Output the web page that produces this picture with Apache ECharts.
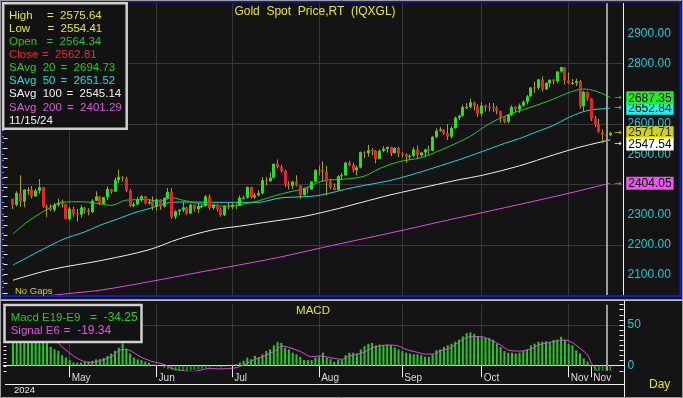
<!DOCTYPE html>
<html>
<head>
<meta charset="utf-8">
<title>Gold Spot Price</title>
<script src="https://cdn.jsdelivr.net/npm/echarts@6.0.0/dist/echarts.min.js"></script>
<style>
  html, body { margin: 0; padding: 0; background: #141414; }
  #main { width: 683px; height: 398px; }
</style>
</head>
<body>
<div id="main"></div>
<script>
// trading days shown (2024)
const dates = [
  '04/10','04/11','04/12','04/15','04/16','04/17','04/18','04/19','04/22','04/23','04/24','04/25','04/26','04/29','04/30',
  '05/01','05/02','05/03','05/06','05/07','05/08','05/09','05/10','05/13','05/14','05/15','05/16','05/17','05/20','05/21',
  '05/22','05/23','05/24','05/27','05/28','05/29','05/30','05/31',
  '06/03','06/04','06/05','06/06','06/07','06/10','06/11','06/12','06/13','06/14','06/17','06/18','06/19','06/20','06/21',
  '06/24','06/25','06/26','06/27','06/28',
  '07/01','07/02','07/03','07/04','07/05','07/08','07/09','07/10','07/11','07/12','07/15','07/16','07/17','07/18','07/19',
  '07/22','07/23','07/24','07/25','07/26','07/29','07/30','07/31',
  '08/01','08/02','08/05','08/06','08/07','08/08','08/09','08/12','08/13','08/14','08/15','08/16','08/19','08/20','08/21',
  '08/22','08/23','08/26','08/27','08/28','08/29','08/30',
  '09/02','09/03','09/04','09/05','09/06','09/09','09/10','09/11','09/12','09/13','09/16','09/17','09/18','09/19','09/20',
  '09/23','09/24','09/25','09/26','09/27','09/30',
  '10/01','10/02','10/03','10/04','10/07','10/08','10/09','10/10','10/11','10/14','10/15','10/16','10/17','10/18','10/21',
  '10/22','10/23','10/24','10/25','10/28','10/29','10/30','10/31',
  '11/01','11/04','11/05','11/06','11/07','11/08','11/11','11/12','11/13','11/14','11/15','11/18'
];

// [open, high, low, close]
const ohlc = [
  [2353,2354,2319,2333],[2333,2378,2327,2372],[2373,2431,2326,2344],[2344,2384,2325,2383],[2383,2392,2366,2383],
  [2383,2395,2354,2361],[2361,2386,2359,2379],[2379,2418,2369,2391],[2391,2392,2323,2327],[2327,2334,2292,2322],
  [2322,2335,2311,2316],[2316,2339,2309,2332],[2332,2353,2326,2337],[2338,2350,2324,2335],[2335,2336,2285,2286],
  [2286,2326,2281,2320],[2320,2326,2293,2303],[2303,2319,2277,2301],[2301,2331,2291,2324],[2324,2326,2304,2314],
  [2314,2321,2298,2309],[2309,2351,2306,2346],[2346,2378,2345,2360],[2360,2361,2332,2336],[2336,2359,2335,2358],
  [2358,2393,2349,2385],[2385,2386,2369,2376],[2376,2422,2374,2415],[2415,2450,2405,2425],[2425,2427,2410,2421],
  [2421,2426,2374,2379],[2379,2385,2326,2329],[2329,2341,2325,2334],[2334,2358,2332,2350],[2350,2364,2341,2361],
  [2361,2362,2334,2338],[2338,2352,2333,2343],[2343,2360,2315,2327],
  [2327,2354,2314,2350],[2350,2352,2316,2327],[2327,2357,2324,2355],[2355,2388,2351,2376],[2376,2388,2287,2293],
  [2293,2315,2286,2311],[2311,2318,2298,2316],[2316,2342,2309,2324],[2324,2326,2300,2304],[2304,2336,2302,2333],
  [2333,2334,2310,2319],[2319,2336,2306,2329],[2329,2333,2322,2329],[2329,2365,2327,2360],[2360,2368,2316,2322],
  [2322,2335,2316,2334],[2334,2336,2310,2319],[2319,2324,2293,2298],[2298,2331,2295,2327],[2327,2339,2318,2326],
  [2326,2338,2319,2332],[2332,2336,2319,2330],[2330,2364,2329,2356],[2356,2363,2351,2356],[2356,2393,2354,2392],
  [2392,2393,2353,2358],[2358,2372,2352,2364],[2364,2381,2360,2371],[2371,2424,2368,2414],[2414,2425,2397,2411],
  [2411,2440,2409,2422],[2422,2469,2421,2469],[2469,2483,2453,2458],[2458,2465,2440,2445],[2445,2449,2392,2400],
  [2400,2410,2384,2396],[2396,2412,2385,2409],[2409,2431,2394,2397],[2397,2398,2353,2364],[2364,2390,2364,2387],
  [2387,2393,2371,2384],[2384,2411,2383,2410],[2410,2451,2407,2447],
  [2447,2462,2431,2446],[2446,2477,2410,2443],[2443,2461,2364,2409],[2409,2419,2385,2390],[2390,2403,2381,2382],
  [2382,2431,2380,2427],[2427,2439,2415,2431],[2431,2475,2427,2472],[2472,2479,2460,2465],[2465,2473,2440,2447],
  [2447,2463,2431,2456],[2456,2509,2454,2507],[2507,2510,2488,2504],[2504,2531,2492,2513],[2513,2520,2497,2512],
  [2512,2514,2470,2485],[2485,2516,2484,2512],[2512,2527,2507,2518],[2518,2526,2506,2524],[2524,2525,2494,2504],
  [2504,2524,2503,2521],[2521,2525,2491,2503],
  [2503,2507,2490,2500],[2500,2503,2472,2493],[2493,2500,2482,2495],[2495,2524,2490,2516],[2516,2529,2485,2497],
  [2497,2507,2492,2506],[2506,2518,2493,2516],[2516,2528,2500,2512],[2512,2560,2510,2558],[2558,2586,2554,2578],
  [2578,2590,2575,2582],[2582,2584,2564,2570],[2570,2600,2547,2559],[2559,2592,2552,2587],[2587,2625,2585,2621],
  [2621,2632,2613,2628],[2628,2664,2624,2657],[2657,2670,2649,2657],[2657,2685,2652,2672],[2672,2674,2645,2658],
  [2658,2666,2624,2634],
  [2634,2673,2625,2662],[2662,2664,2642,2657],[2657,2670,2642,2656],[2656,2670,2640,2653],[2653,2660,2632,2643],
  [2643,2644,2605,2622],[2622,2624,2603,2608],[2608,2633,2604,2631],[2631,2662,2626,2657],[2657,2660,2640,2649],
  [2649,2668,2637,2662],[2662,2678,2657,2674],[2674,2696,2665,2692],[2692,2722,2690,2721],[2721,2740,2704,2720],
  [2720,2749,2714,2748],[2748,2758,2708,2715],[2715,2739,2714,2736],[2736,2748,2722,2747],[2747,2749,2731,2743],
  [2743,2774,2736,2774],[2774,2790,2770,2788],[2788,2789,2731,2744],
  [2744,2771,2732,2736],[2736,2749,2730,2736],[2736,2750,2726,2742],[2742,2746,2652,2659],[2659,2710,2643,2706],
  [2706,2709,2677,2685],[2685,2686,2610,2618],[2618,2627,2590,2598],[2598,2618,2572,2573],[2573,2582,2537,2565],
  [2564.34,2575.64,2554.41,2562.81],[2563,2575,2560,2571.71]
];

// moving averages: [day index, value]
const sma20 = [[0,2236],[4,2278],[10,2325],[13,2341],[18,2343],[22,2338],[26,2331],[30,2348],[35,2350],[39,2345],
  [42,2356],[45,2348],[50,2335],[57,2328],[61,2335],[65,2346],[69,2362],[73,2375],[77,2386],[82,2412],[88,2418],
  [93,2428],[97,2453],[102,2475],[108,2489],[113,2513],[118,2541],[121,2560],[126,2601],[131,2631],[137,2656],
  [142,2678],[147,2704],[151,2716],[154,2710],[157,2694.73],[158,2687.35]];
const sma50 = [[0,2133],[13,2217],[19,2243],[23,2265],[28,2287],[32,2306],[36,2320],[41,2339],[45,2342],[55,2341],
  [65,2341],[68,2348],[71,2356],[76,2359],[81,2364],[90,2390],[100,2414],[108,2442],[113,2462],[118,2482],
  [123,2504],[130,2536],[134,2552],[138,2572],[143,2596],[147,2622],[152,2645],[157,2651.52],[158,2652.84]];
const sma100 = [[0,2083],[10,2118],[24,2150],[36,2184],[44,2220],[53,2250],[60,2262],[68,2277],[76,2292],[84,2314],
  [92,2340],[100,2366],[110,2394],[118,2416],[124,2430],[134,2462],[143,2498],[150,2524],[155,2539],
  [157,2545.14],[158,2547.54]];
const sma200 = [[0,2016],[11,2034],[23,2050],[36,2078],[50,2111],[57,2127],[70,2158],[84,2197],[100,2240],
  [115,2282],[130,2323],[145,2365],[152,2386],[157,2401.29],[158,2404.05]];

// MACD E19-E9 per day, and its E6 signal
const macd = [
  46,47,50,52,53,52,50,45,36,29,
  23,20,18.4,13,10,7,4,3.7,4,4.5,
  5,6,7.8,8.2,9.4,11.9,15,18.4,22,27.4,
  21,15,10,7.8,7,5,3.7,1.6,0.8,-1,
  -2.5,-4,-5,-6,-7,-7,-6.5,-6,-5,-4.5,
  -3.5,-2.5,-2,-1,-1.5,-2,-1,0.5,1,2,
  4,6,10,8,12,10,14,18,20,25,
  29,28,22,20,16,14,11,7,7,7,
  10,11,16,10,8,5,7,7,13,16,
  16,15,20,24,27,28,25,26,25,26,
  25,22.5,20,18,16,15,14,14,13,11,
  11,14,19,20,23,25,27,29.5,32,36,
  40,41,39,36,35,34,34,32,27,23,
  18,16,16,15,16,18,20,25,27,29.5,
  29.5,30,29.5,31.5,32,35.6,31.5,27,25,19,
  15,9,5,-1,-9,-17,-26,-34.25,-38
];
const signal = [[0,44],[4,46],[8,42],[10,36],[12,27.5],[14,19.2],[17,9],[20,4.1],[22,4.9],[26,11],[28,18.4],
  [30,20],[32,16],[34,10.2],[37,4.9],[40,1.6],[42,-3.3],[45,-6.1],[47,-7.4],[49,-6],[52,-3.3],[55,-4],[57,-3.3],
  [59,-2.5],[62,2.9],[64,7.8],[67,13],[70,20],[71,24.2],[73,22.5],[76,17.5],[79,11],[81,12],[85,9],[87,7.8],
  [89,11.9],[92,15],[94,19.2],[96,23.3],[99,25.4],[102,24.2],[104,20],[107,16.4],[109,14.3],[111,14.3],[113,18],
  [116,22.5],[118,29.5],[121,35.6],[124,35.6],[126,32.3],[129,25.4],[131,19.2],[134,18],[137,20.5],[139,25.4],
  [143,29.5],[146,31.5],[148,28.3],[150,21.3],[152,13.1],[153,3],[154,-3],[155,-9],[156,-14],[157,-19.34],[158,-23]];

// date axis
const tickDates = ['05/01','06/03','07/01','08/01','09/02','10/01','11/01','11/11'];
const tickLabels = ['May','Jun','Jul','Aug','Sep','Oct','Nov','Nov'];
const gridDates = ['05/01','06/03','07/01','08/01','09/02','10/01','11/01'];

// price labels on the right axis (2700 sits under the SAvg 20 box in the original)
const priceLabels = [2100, 2200, 2300, 2400, 2500, 2600, 2800, 2900];
const macdLabels = [0, 50];

// read-out boxes
const cursorDay = 157;
const statNames = ['High', 'Low', 'Open', 'Close', 'SAvg  20', 'SAvg  50', 'SAvg  100', 'SAvg  200'];
const statValues = [2575.64, 2554.41, 2564.34, 2562.81, 2694.73, 2651.52, 2545.14, 2401.29];
const statDate = '11/15/24';
const macdNames = ['Macd E19-E9', 'Signal E6'];
const macdValues = [-34.25, -19.34];

const FONT = '"Liberation Sans", Arial, sans-serif';
const PAD = 2;
const at = d => d + PAD;
const cats = ['s0', 's1'].concat(dates, ['e0', 'e1', 'e2']);
const L = 3.5, W = 620;

const tickSet = new Set(tickDates);
const gridSet = new Set(gridDates);
const labelOf = {};
tickDates.forEach((d, i) => { labelOf[d] = tickLabels[i]; });
const near = (list, v) => list.some(t => Math.abs(t - v) < 0.01);

const C = {
  bg: '#141414', grid: '#383838', up: '#1ee61e', down: '#ee2222', wick: '#a6a600',
  s20: '#22cc22', s50: '#14d8e0', s100: '#eeeeee', s200: '#e448e4',
  yellow: '#e6e61e', axisText: '#1ec8d6'
};

function boxRich(arrowColor, box) {
  return {
    a: { color: arrowColor, fontFamily: 'DejaVu Sans', fontSize: 9, width: 12 },
    b: { color: '#000', backgroundColor: box, fontFamily: FONT, fontSize: 12, lineHeight: 12, padding: [1, 2, 0, 2] }
  };
}

function maSeries(pts, color, box, offset) {
  return {
    type: 'line', xAxisIndex: 0, yAxisIndex: 0, z: 3,
    data: pts.map(p => [at(p[0]), p[1]]),
    smooth: 0.35, showSymbol: false, symbol: 'none', silent: true,
    lineStyle: { color: color, width: 1 },
    itemStyle: { color: color },
    endLabel: {
      show: true, distance: 4, offset: offset || [0, 0],
      formatter: p => '{a|→}{b|' + p.value[1].toFixed(2) + '}',
      rich: boxRich(color, box)
    }
  };
}

function renderCandle(params, api) {
  const i = api.value(0);
  const o = api.value(1), h = api.value(2), l = api.value(3), c = api.value(4);
  const hi = api.coord([i, h]), lo = api.coord([i, l]);
  const yo = api.coord([i, o])[1], yc = api.coord([i, c])[1];
  const x = Math.floor(hi[0]);
  const sel = i === at(cursorDay);
  const top = Math.min(yo, yc);
  const bh = Math.max(Math.abs(yo - yc), 1);
  return {
    type: 'group',
    children: [
      { type: 'rect', shape: { x: x, y: hi[1], width: 1, height: lo[1] - hi[1] },
        style: { fill: sel ? '#f0f000' : C.wick } },
      { type: 'rect', shape: { x: x - 1, y: top, width: 3, height: bh },
        style: { fill: sel ? '#2a3ae8' : (c >= o ? C.up : C.down) } }
    ]
  };
}

const last = ohlc.length - 1;
const hidden = { show: false };

const grids = [
  { left: L, width: W, top: 3.31, height: 292.92 },   // 0 price data 2030-3000
  { left: L, width: W, top: 3.31, height: 289.9 },    // 1 price axis 2040-3000
  { left: L, width: W, top: 63.71, height: 181.19 },  // 2 price grid lines 2200-2800
  { left: L, width: W, top: 304.65, height: 66.15 },  // 3 macd -6.25..75
  { left: L, width: W, top: 325.0, height: 40.7 }     // 4 macd grid lines 0..50
].map(g => Object.assign({ outerBoundsMode: 'none', containLabel: false }, g));

const valueX = gi => ({ type: 'value', gridIndex: gi, min: 0, max: 1, show: false });

const option = {
  backgroundColor: C.bg,
  animation: false,
  grid: grids,
  xAxis: [
    { type: 'category', gridIndex: 0, data: cats, boundaryGap: true,
      axisLine: hidden, axisTick: hidden, axisLabel: hidden,
      splitLine: { show: true, alignWithLabel: true, interval: (i, v) => gridSet.has(v), lineStyle: { color: C.grid, width: 1 } } },
    valueX(1),
    valueX(2),
    { type: 'category', gridIndex: 3, data: cats, boundaryGap: true, offset: 1.7,
      axisLine: { show: true, lineStyle: { color: '#f0f0f0', width: 1 } },
      axisTick: { show: true, alignWithLabel: true, length: 11.5, interval: (i, v) => tickSet.has(v), lineStyle: { color: '#f0f0f0' } },
      axisLabel: { show: true, interval: (i, v) => tickSet.has(v), formatter: v => labelOf[v] || '',
        align: 'left', padding: [0, 0, 0, 2], margin: 1, color: '#dcdcdc', fontSize: 10, fontFamily: FONT },
      splitLine: { show: true, alignWithLabel: true, interval: (i, v) => gridSet.has(v), lineStyle: { color: C.grid, width: 1 } } },
    valueX(4)
  ],
  yAxis: [
    { type: 'value', gridIndex: 0, min: 2030, max: 3000, show: false },
    { type: 'value', gridIndex: 1, position: 'right', min: 2040, max: 3000, interval: 20,
      axisLine: hidden, splitLine: hidden,
      axisTick: { show: true, inside: true, length: 4, lineStyle: { color: '#f0f0f0' } },
      axisLabel: { show: true, margin: 4, color: C.axisText, fontSize: 12, fontFamily: FONT,
        formatter: v => near(priceLabels, v) ? v.toFixed(2) : '' } },
    { type: 'value', gridIndex: 1, position: 'left', min: 0, max: 30, interval: 1,
      axisLine: hidden, splitLine: hidden, axisLabel: hidden,
      axisTick: { show: true, inside: true, length: 4, lineStyle: { color: '#f0f0f0' } } },
    { type: 'value', gridIndex: 2, min: 2200, max: 2800, interval: 200,
      axisLine: hidden, axisTick: hidden, axisLabel: hidden,
      splitLine: { show: true, lineStyle: { color: C.grid, width: 1 } } },
    { type: 'value', gridIndex: 3, position: 'right', min: -6.25, max: 75, interval: 6.25,
      axisLine: hidden, splitLine: hidden,
      axisTick: { show: true, inside: true, length: 4, lineStyle: { color: '#f0f0f0' } },
      axisLabel: { show: true, margin: 4, color: C.axisText, fontSize: 12, fontFamily: FONT,
        formatter: v => near(macdLabels, v) ? String(Math.round(v)) : '' } },
    { type: 'value', gridIndex: 3, position: 'left', min: 0, max: 16, interval: 1,
      axisLine: hidden, splitLine: hidden, axisLabel: hidden,
      axisTick: { show: true, inside: true, length: 3, lineStyle: { color: '#f0f0f0' } } },
    { type: 'value', gridIndex: 4, min: 0, max: 50, interval: 50,
      axisLine: hidden, axisTick: hidden, axisLabel: hidden,
      splitLine: { show: true, lineStyle: { color: C.grid, width: 1 } } }
  ],
  series: [
    maSeries(sma200, C.s200, '#ee55ee'),
    maSeries(sma100, C.s100, '#ffffff', [0, 4]),
    maSeries(sma50, C.s50, '#22eeee'),
    Object.assign(maSeries(sma20, C.s20, '#22ee22'), {
      markLine: { silent: true, symbol: 'none', label: { show: false },
        lineStyle: { color: '#9a9a9a', width: 2, type: 'solid' },
        data: [{ xAxis: at(cursorDay) }] }
    }),
    { type: 'custom', xAxisIndex: 0, yAxisIndex: 0, z: 4, clip: true, silent: true,
      renderItem: renderCandle,
      encode: { x: 0, y: [1, 2, 3, 4] },
      data: ohlc.map((r, d) => [at(d), r[0], r[1], r[2], r[3]]) },
    { type: 'scatter', xAxisIndex: 0, yAxisIndex: 0, z: 5, silent: true, symbolSize: 0,
      data: [[at(last), ohlc[last][3]]],
      label: { show: true, position: 'right', distance: 4,
        formatter: p => '{a|→}{b|' + p.value[1].toFixed(2) + '}',
        rich: boxRich('#f0f000', '#ffff22') } },
    { type: 'bar', xAxisIndex: 3, yAxisIndex: 4, barWidth: 2, silent: true,
      data: macd.map((v, d) => [at(d), v]),
      itemStyle: { color: p => p.value[1] < 0 ? '#178c17' : '#22cc22' },
      markLine: { silent: true, symbol: 'none', label: { show: false },
        lineStyle: { color: '#9a9a9a', width: 2, type: 'solid' },
        data: [{ xAxis: at(cursorDay) }] } },
    { type: 'line', xAxisIndex: 3, yAxisIndex: 4, z: 3, silent: true,
      data: signal.map(p => [at(p[0]), p[1]]),
      smooth: 0.3, showSymbol: false, symbol: 'none',
      lineStyle: { color: C.s200, width: 1 } }
  ],
  graphic: []
};

// frames, titles and read-out boxes
const G = option.graphic;
const txt = (x, y, text, fill, size, align) => ({
  type: 'text', x: x, y: y, z: 110,
  style: { text: text, fill: fill, fontSize: size || 11.5, fontFamily: FONT, verticalAlign: 'middle', align: align || 'left' }
});

G.push({ type: 'rect', z: 90, shape: { x: 1.5, y: 1.5, width: 679, height: 294.5 }, style: { fill: 'none', stroke: '#1418c8', lineWidth: 2 } });
G.push({ type: 'rect', z: 90, shape: { x: 0, y: 299.2, width: 683, height: 1.8 }, style: { fill: '#bdbdbd' } });
G.push({ type: 'rect', z: 91, shape: { x: 0.5, y: 0.5, width: 682, height: 397 }, style: { fill: 'none', stroke: '#9c9c9c', lineWidth: 1 } });
G.push({ type: 'line', z: 90, shape: { x1: 623.5, y1: 3, x2: 623.5, y2: 295 }, style: { stroke: '#f0f0f0', lineWidth: 1 } });
G.push({ type: 'line', z: 90, shape: { x1: 624.5, y1: 301, x2: 624.5, y2: 398 }, style: { stroke: '#f0f0f0', lineWidth: 1 } });
G.push({ type: 'line', z: 90, shape: { x1: 5, y1: 384.5, x2: 624.5, y2: 384.5 }, style: { stroke: '#f0f0f0', lineWidth: 1 } });

G.push(txt(315, 12, 'Gold  Spot  Price,RT  (IQXGL)', C.yellow, 12, 'center'));
G.push(txt(313, 311, 'MACD', C.yellow, 11.5, 'center'));
G.push(txt(15, 291.5, 'No Gaps', '#d8d800', 9.5));
G.push(txt(14, 390, '2024', '#e8e8e8', 9.5));
G.push(txt(649, 385, 'Day', C.yellow, 12));

// price read-out box
const statColors = ['#e6e61e', '#e6e61e', '#1ecc1e', '#ee2a2a', '#1ed21e', '#1edcdc', '#f0f0f0', '#e650e6'];
const statEqX = [47, 47.5, 46.5, 42, 60.5, 60.5, 66.5, 67];
G.push({ type: 'rect', z: 100, shape: { x: 3.2, y: 3.2, width: 123.5, height: 125.5 }, style: { fill: '#121212', stroke: '#cfcfcf', lineWidth: 2.5 } });
statNames.forEach((n, k) => {
  const y = 15.7 + 13.1 * k;
  G.push(txt(9, y, n, statColors[k]));
  G.push(txt(statEqX[k], y, '=  ' + statValues[k].toFixed(2), statColors[k]));
});
G.push(txt(9, 15.7 + 13.1 * 8, statDate, '#f0f0f0'));

// macd read-out box
const macdColors = ['#1ed21e', '#e650e6'];
const macdEqX = [90, 63.5];
G.push({ type: 'rect', z: 100, shape: { x: 4.5, y: 305, width: 137, height: 37 }, style: { fill: '#121212', stroke: '#d0d0d0', lineWidth: 2.5 } });
macdNames.forEach((n, k) => {
  const y = 317.7 + 13 * k;
  G.push(txt(10.7, y, n, macdColors[k], 11.5));
  G.push(txt(macdEqX[k], y, '=  ' + macdValues[k].toFixed(2), macdColors[k], 12));
});

const chart = echarts.init(document.getElementById('main'), null, { renderer: 'canvas' });
chart.setOption(option);
</script>
</body>
</html>
